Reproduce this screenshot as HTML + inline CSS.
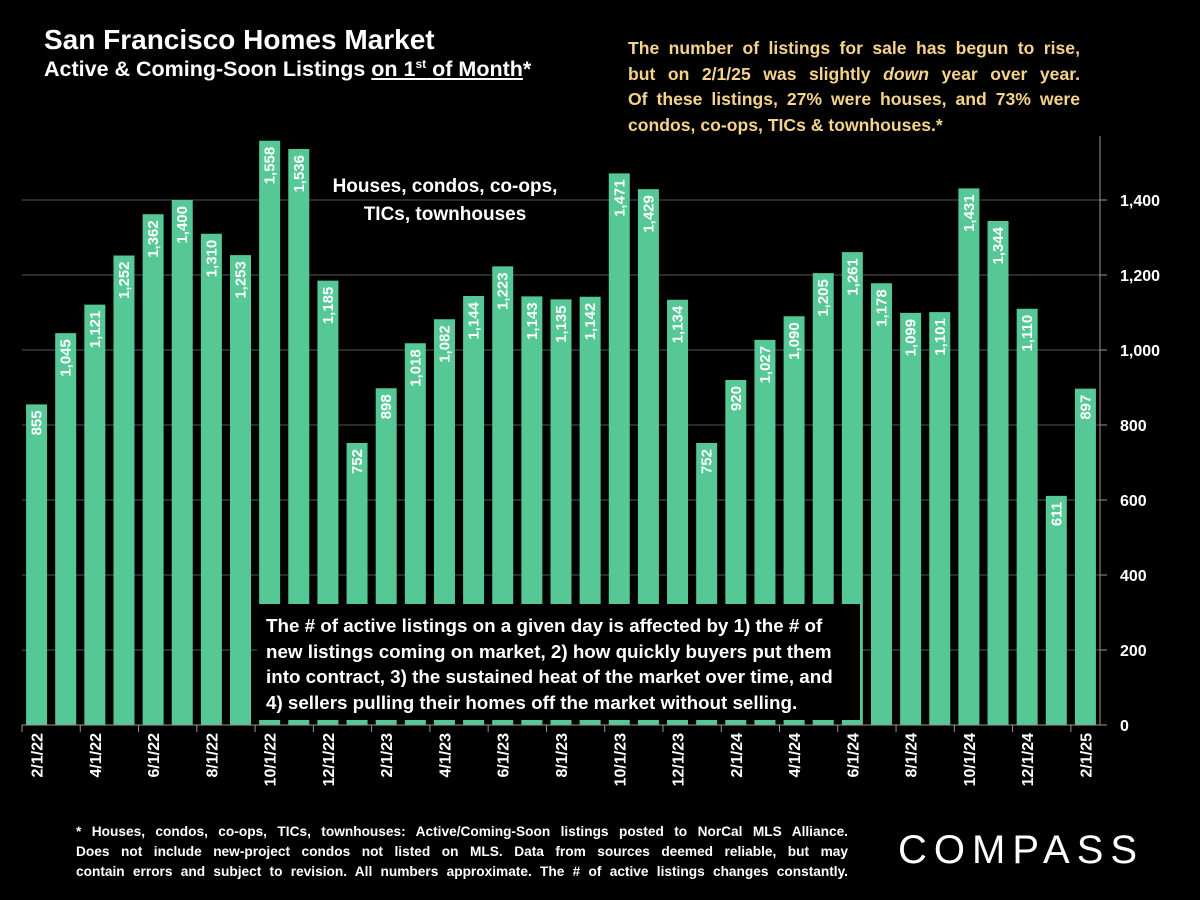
<!DOCTYPE html>
<html><head><meta charset="utf-8"><style>
body{margin:0;background:#000;width:1200px;height:900px;overflow:hidden;font-family:"Liberation Sans",sans-serif;color:#fff}
.t{position:absolute;font-weight:bold;white-space:nowrap}
.j{text-align:justify;text-align-last:justify;white-space:nowrap}
.l{text-align:left;white-space:nowrap}
</style></head><body>
<div class="t" style="left:44px;top:24px;font-size:28px">San Francisco Homes Market</div>
<div class="t" style="left:44px;top:57px;font-size:21.5px">Active &amp; Coming-Soon Listings <u>on 1<sup style="font-size:12px">st</sup> of Month</u>*</div>
<div class="t" style="left:628px;top:36px;width:452px;font-size:17.6px;line-height:25.5px;color:#f5d38a">
<div class="j">The number of listings for sale has begun to rise,</div>
<div class="j">but on 2/1/25 was slightly <i>down</i> year over year.</div>
<div class="j">Of these listings, 27% were houses, and 73% were</div>
<div class="l">condos, co-ops, TICs &amp; townhouses.*</div></div>
<svg id="c" width="1200" height="900" style="position:absolute;left:0;top:0"></svg>
<div class="t" style="left:320px;top:173px;width:250px;text-align:center;font-size:19px;line-height:28px;white-space:normal">Houses, condos, co-ops, TICs, townhouses</div>
<div class="t" style="left:257px;top:604px;width:603px;height:116px;background:#000;box-sizing:border-box;padding:9px 0 0 9px;font-size:18.8px;line-height:25.5px">The # of active listings on a given day is affected by 1) the # of<br>new listings coming on market, 2) how quickly buyers put them<br>into contract, 3) the sustained heat of the market over time, and<br>4) sellers pulling their homes off the market without selling.</div>
<div class="t" style="left:76px;top:822px;font-size:13.7px;line-height:20px;width:772px">
<div class="j">* Houses, condos, co-ops, TICs, townhouses: Active/Coming-Soon listings posted to NorCal MLS Alliance.</div>
<div class="j">Does not include new-project condos not listed on MLS. Data from sources deemed reliable, but may</div>
<div class="j">contain errors and subject to revision. All numbers approximate. The # of active listings changes constantly.</div></div>
<div class="t" style="left:898px;top:828px;font-size:40px;font-weight:normal;letter-spacing:7px">COMPASS</div>
<script>
const categories=["2/1/22","3/1/22","4/1/22","5/1/22","6/1/22","7/1/22","8/1/22","9/1/22","10/1/22","11/1/22","12/1/22","1/1/23","2/1/23","3/1/23","4/1/23","5/1/23","6/1/23","7/1/23","8/1/23","9/1/23","10/1/23","11/1/23","12/1/23","1/1/24","2/1/24","3/1/24","4/1/24","5/1/24","6/1/24","7/1/24","8/1/24","9/1/24","10/1/24","11/1/24","12/1/24","1/1/25","2/1/25"];
const values=[855,1045,1121,1252,1362,1400,1310,1253,1558,1536,1185,752,898,1018,1082,1144,1223,1143,1135,1142,1471,1429,1134,752,920,1027,1090,1205,1261,1178,1099,1101,1431,1344,1110,611,897];
const yTicks=[0,200,400,600,800,1000,1200,1400];
const svg=document.getElementById('c');const NS='http://www.w3.org/2000/svg';
const L=22,R=1100,B=725,pitch=(R-L)/categories.length,bw=21;
const y=v=>B-v*75/200;const xc=i=>L+pitch*(i+0.5);
function mk(t,a,p){const e=document.createElementNS(NS,t);for(const k in a)e.setAttribute(k,a[k]);(p||svg).appendChild(e);return e;}
yTicks.forEach(v=>{if(v>0){const g=mk('line',{x1:L,x2:R,y1:y(v),y2:y(v),stroke:'#555','stroke-width':1});}
const tk=mk('line',{x1:R,x2:R+7,y1:y(v),y2:y(v),stroke:'#999'});
const t=mk('text',{x:R+20,y:y(v)+6,fill:'#fff','font-size':16,'font-weight':'bold','font-family':'Liberation Sans'});t.textContent=v.toLocaleString('en-US');});
const ax=mk('line',{x1:R,x2:R,y1:136,y2:B,stroke:'#999'});
values.forEach((v,i)=>{const r=mk('rect',{x:xc(i)-bw/2,y:y(v),width:bw,height:B-y(v),fill:'#55c896'});
const t=mk('text',{x:0,y:0,fill:'#fff','font-size':15,'font-weight':'bold','font-family':'Liberation Sans','text-anchor':'end',transform:`translate(${xc(i)+5},${y(v)+6}) rotate(-90)`});t.textContent=v.toLocaleString('en-US');});
const xa=mk('line',{x1:L,x2:R,y1:B,y2:B,stroke:'#999'});
categories.forEach((c,i)=>{if(i%2)return;const xx=L+pitch*i;const tk=mk('line',{x1:xx,x2:xx,y1:B,y2:B+7,stroke:'#999'});
const t=mk('text',{x:0,y:0,fill:'#fff','font-size':16,'font-weight':'bold','font-family':'Liberation Sans','text-anchor':'end',transform:`translate(${xc(i)+6},${B+8}) rotate(-90)`});t.textContent=c;});
</script>
</body></html>
